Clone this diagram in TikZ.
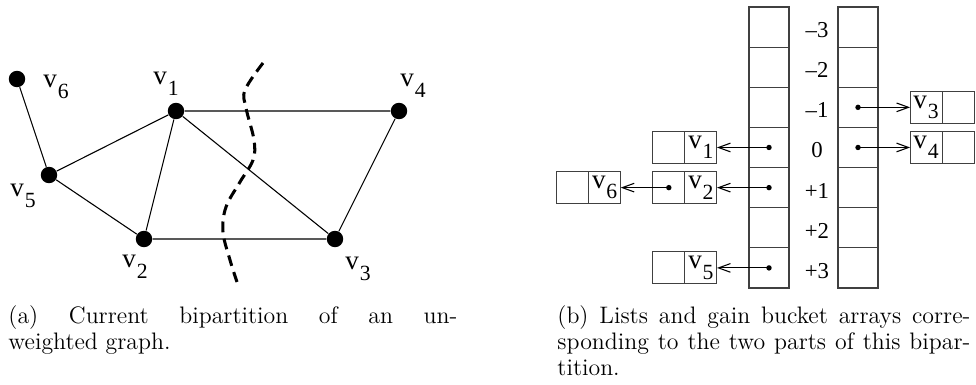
\documentclass[tikz,border=0pt]{standalone}
\usepackage{fontspec}
\newfontfamily\labfont{Liberation Serif}
\usepackage{tikz}
\usetikzlibrary{arrows.meta, positioning}
\newcommand{\vsub}[1]{{\labfont\fontsize{12.5}{14}\selectfont v\kern0.4pt\raisebox{-4.8pt}{\fontsize{10}{12}\selectfont #1}}}
\tikzset{
  vertex/.style={circle, fill=black, inner sep=0pt, minimum size=7.6pt},
  edge/.style={line width=0.5pt},
  cutline/.style={line width=1.4pt, dash pattern=on 5pt off 3pt},
  bucket/.style={rectangle, draw=black!75, line width=0.5pt, outer sep=0pt,
                 minimum width=18.46pt, minimum height=18.52pt, inner sep=0pt},
  cell/.style={rectangle, draw=black!75, line width=0.5pt, outer sep=0pt,
               minimum width=14.8pt, minimum height=14.8pt, inner sep=0pt},
  ptr/.style={circle, fill=black, inner sep=0pt, minimum size=2.5pt},
  link/.style={-{Straight Barb[length=5.5pt, width=4pt]}, line width=0.5pt},
  gain/.style={font=\labfont\fontsize{10.5}{12}\selectfont, inner sep=0pt},
  vlabel/.style={anchor=base west, inner sep=0pt},
  caption/.style={anchor=north west, inner sep=0pt, align=justify,
                  font=\fontsize{11}{12}\selectfont,
                  execute at begin node={\tolerance=10000\hbadness=10000\relax}},
}
\begin{document}
\begin{tikzpicture}[x=0.4615pt, y=-0.4615pt, node distance=14.8pt]
  \useasboundingbox (0,0) rectangle (976,385);
  \node[vertex] (v1) at (176,111) {};
  \node[vertex] (v2) at (144,239) {};
  \node[vertex] (v3) at (335,239) {};
  \node[vertex] (v4) at (399,111) {};
  \node[vertex] (v5) at (49,175) {};
  \node[vertex] (v6) at (17,79) {};
  \node[vlabel] (l1) at (153,85) {\vsub{1}};
  \node[vlabel] (l2) at (122,268) {\vsub{2}};
  \node[vlabel] (l3) at (345,270) {\vsub{3}};
  \node[vlabel] (l4) at (400,87) {\vsub{4}};
  \node[vlabel] (l5) at (10,197) {\vsub{5}};
  \node[vlabel] (l6) at (43,88) {\vsub{6}};
  \draw[edge] (v6) -- (v5) -- (v1) -- (v4) -- (v3) -- (v2) -- (v5);
  \draw[edge] (v1) -- (v2);
  \draw[edge] (v1) -- (v3);
  \draw[cutline] plot[smooth, tension=0.6] coordinates {(263,63) (245,90) (246,108)
    (254,140) (253,160) (240,182) (226,207) (223,232) (230,260) (237,282)};

  \foreach \i/\g in {1/–3, 2/–2, 3/–1, 4/0, 5/+1, 6/+2, 7/+3} {
    \node[bucket] (L\i) at (769,{7+40.14*(\i-0.5)}) {};
    \node[bucket] (R\i) at (858,{7+40.14*(\i-0.5)}) {};
    \node[gain] (g\i) at (817,{10+40.14*(\i-0.5)}) {\g};
  }
  \node[ptr] (p4) at (L4) {};
  \node[ptr] (p5) at (L5) {};
  \node[ptr] (p7) at (L7) {};
  \node[ptr] (q3) at (R3) {};
  \node[ptr] (q4) at (R4) {};

  \node[cell, left=of L4] (a1v) {\vsub{1}};
  \node[cell, left=0pt of a1v] (a1) {};
  \node[cell, left=of L5] (a2v) {\vsub{2}};
  \node[cell, left=0pt of a2v] (a2) {};
  \node[ptr] (p2) at (a2) {};
  \node[cell, left=of a2] (a6v) {\vsub{6}};
  \node[cell, left=0pt of a6v] (a6) {};
  \node[cell, left=of L7] (a5v) {\vsub{5}};
  \node[cell, left=0pt of a5v] (a5) {};
  \node[cell, right=of R3] (b3v) {\vsub{3}};
  \node[cell, right=0pt of b3v] (b3) {};
  \node[cell, right=of R4] (b4v) {\vsub{4}};
  \node[cell, right=0pt of b4v] (b4) {};

  \draw[link] (p4.center) -- (a1v.east);
  \draw[link] (p5.center) -- (a2v.east);
  \draw[link] (p2.center) -- (a6v.east);
  \draw[link] (p7.center) -- (a5v.east);
  \draw[link] (q3.center) -- (b3v.west);
  \draw[link] (q4.center) -- (b4v.west);

  \node[caption, text width=207.2pt] (capa) at (8,305)
    {(a) Current bipartition of an un-\linebreak weighted graph.};
  \node[caption, text width=190.6pt] (capb) at (557,305)
    {(b) Lists and gain bucket arrays corre-\linebreak sponding to the two parts of this bipar-\linebreak tition.};
\end{tikzpicture}
\end{document}
